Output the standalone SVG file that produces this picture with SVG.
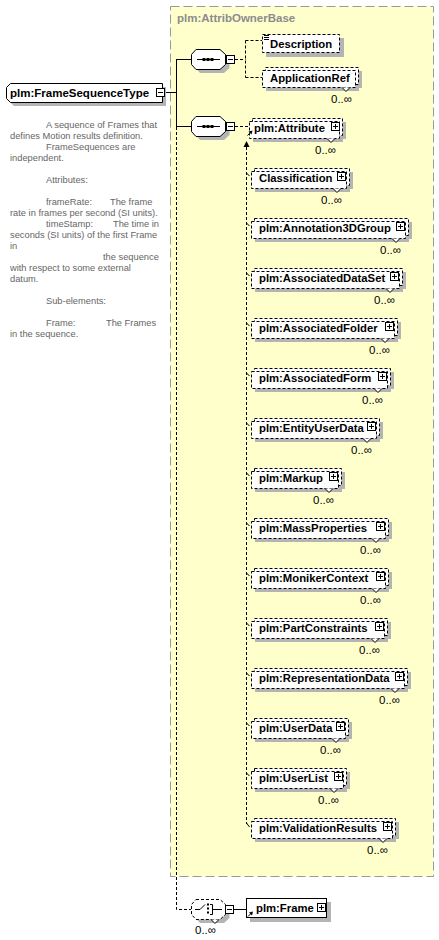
<svg xmlns="http://www.w3.org/2000/svg" width="439" height="940" viewBox="0 0 439 940">
<style>
.bg{fill:#fff}
.base{fill:#ffffcc;stroke:#999;stroke-width:1;stroke-dasharray:9 4}
.btitle{font-family:"Liberation Sans",Arial,sans-serif;font-weight:bold;font-size:11.5px;fill:#8c8c8c}
.sh{fill:#b4b4b4}
.eb{fill:#fff;stroke:#000;stroke-width:1;stroke-dasharray:3 2}
.sb{fill:#fff;stroke:#000;stroke-width:1}
.notch{fill:#fff;stroke:#000;stroke-width:1}
.pb{fill:#fff;stroke:#000;stroke-width:1}
.pl{fill:none;stroke:#000;stroke-width:1}
.t{font-family:"Liberation Sans",Arial,sans-serif;font-weight:bold;font-size:11.3px;fill:#000}
.occ{font-family:"Liberation Sans",Arial,sans-serif;font-size:11.5px;fill:#000;text-anchor:end}
.doc{font-family:"Liberation Sans",Arial,sans-serif;font-size:9.3px;fill:#666}
.ln{fill:none;stroke:#000;stroke-width:1}
.dl{fill:none;stroke:#000;stroke-width:1;stroke-dasharray:3 2}
.dot{fill:#000}
</style>
<rect class="bg" x="0" y="0" width="439" height="940"/>

<g id="base-AttribOwnerBase">
<rect class="base" x="170.5" y="6.5" width="263" height="870"/>
<text class="btitle" x="177" y="22">plm:AttribOwnerBase</text>
</g>

<g id="connectors">
<path class="ln" d="M162,92.5H176.5M176.5,59.5V126.5M176,59.5H191M176,126.5H191"/>
<path class="dl" d="M176.5,127V909.5H191"/>
<path class="dl" d="M235,59.5H245.5M245.5,40.5V77.5M245.5,40.5H262M245.5,77.5H262"/>
<path class="dl" d="M235,126.5H248"/>
<path class="ln" d="M234,909.5H246"/>
<path class="dl" d="M246.5,147V824"/>
<polygon class="dot" points="246.5,141 243.5,147 249.5,147"/>
<path class="ln" d="M246.5,173L249.5,176M246.5,223L249.5,226M246.5,273L249.5,276M246.5,323L249.5,326M246.5,373L249.5,376M246.5,423L249.5,426M246.5,473L249.5,476M246.5,523L249.5,526M246.5,573L249.5,576M246.5,623L249.5,626M246.5,673L249.5,676M246.5,723L249.5,726M246.5,773L249.5,776M246.5,823L249.5,827"/>
</g>

<g id="FrameSequenceType">
<polygon class="sh" points="14,87 166,87 166,106 14,106 10,102 10,91"/>
<polygon class="sb" points="10.5,83.5 162.5,83.5 162.5,102.5 10.5,102.5 6.5,98.5 6.5,87.5"/>
<text class="t" x="10" y="97" style="font-size:11.5px">plm:FrameSequenceType</text>
<rect class="pb" x="156.5" y="88.5" width="8" height="8"/>
<path class="pl" d="M158,92.5H163"/>
</g>

<g id="doc">
<text class="doc" x="46" y="128">A sequence of Frames that</text>
<text class="doc" x="10" y="139">defines Motion results definition.</text>
<text class="doc" x="46" y="150">FrameSequences are</text>
<text class="doc" x="10" y="161">independent.</text>
<text class="doc" x="46" y="183">Attributes:</text>
<text class="doc" x="46" y="205">frameRate:</text>
<text class="doc" x="110" y="205">The frame</text>
<text class="doc" x="10" y="216">rate in frames per second (SI units).</text>
<text class="doc" x="46" y="227">timeStamp:</text>
<text class="doc" x="113" y="227">The time in</text>
<text class="doc" x="10" y="238">seconds (SI units) of the first Frame</text>
<text class="doc" x="10" y="249">in</text>
<text class="doc" x="103" y="260">the sequence</text>
<text class="doc" x="10" y="271">with respect to some external</text>
<text class="doc" x="10" y="282">datum.</text>
<text class="doc" x="46" y="304">Sub-elements:</text>
<text class="doc" x="46" y="326">Frame:</text>
<text class="doc" x="106" y="326">The Frames</text>
<text class="doc" x="10" y="337">in the sequence.</text>
</g>

<g id="sequence1">
<polygon class="sh" points="200,53 224,53 229.5,58 229.5,68 224,73 200,73 195.5,68 195.5,58"/>
<polygon class="sb" points="196,49.5 220,49.5 225.5,54.5 225.5,64.5 220,69.5 196,69.5 191.5,64.5 191.5,54.5"/>
<path class="pl" d="M197,59.5H220"/>
<rect class="dot" x="202.5" y="58" width="3" height="3"/>
<rect class="dot" x="206.5" y="58" width="3" height="3"/>
<rect class="dot" x="210.5" y="58" width="3" height="3"/>
<rect class="pb" x="226.5" y="55.5" width="8" height="8"/>
<path class="pl" d="M228,59.5H233"/>
</g>

<g id="sequence2">
<polygon class="sh" points="200,120 224,120 229.5,125 229.5,135 224,140 200,140 195.5,135 195.5,125"/>
<polygon class="sb" points="196,116.5 220,116.5 225.5,121.5 225.5,131.5 220,136.5 196,136.5 191.5,131.5 191.5,121.5"/>
<path class="pl" d="M197,126.5H220"/>
<rect class="dot" x="202.5" y="125" width="3" height="3"/>
<rect class="dot" x="206.5" y="125" width="3" height="3"/>
<rect class="dot" x="210.5" y="125" width="3" height="3"/>
<rect class="pb" x="226.5" y="122.5" width="8" height="8"/>
<path class="pl" d="M228,126.5H233"/>
</g>

<g id="Description">
<rect class="sh" x="266" y="38" width="78" height="19"/>
<rect class="eb" x="262.5" y="34.5" width="77" height="18"/>
<path class="pl" d="M264,35.5H269M264,37.5H269M264,39.5H269"/>
<text class="t" x="270" y="48">Description</text>
</g>

<g id="ApplicationRef">
<rect class="sh" x="269" y="71" width="93" height="17"/>
<rect class="sh" x="266" y="74" width="93" height="17"/>
<rect class="eb" x="265.5" y="67.5" width="93" height="17"/>
<rect class="eb" x="262.5" y="70.5" width="93" height="17"/>
<path class="notch" d="M342,87.5L346,91.5L350,87.5"/>
<text class="t" x="270" y="82">ApplicationRef</text>
<text class="occ" x="352" y="103">0..∞</text>
</g>

<g id="Attribute" transform="translate(0,118)">
<rect class="sh" x="256" y="4" width="90" height="17"/>
<rect class="sh" x="253" y="7" width="90" height="17"/>
<rect class="eb" x="252.5" y="0.5" width="90" height="17"/>
<rect class="eb" x="249.5" y="3.5" width="90" height="17"/>
<path class="notch" d="M327,20.5L331,24.5L335,20.5"/>
<rect class="pb" x="331.5" y="4.5" width="8" height="8"/>
<path class="pl" d="M333,8.5H338M335.5,6V11"/>
<path class="ln" d="M247.5,17.5L251,14"/>
<polygon class="dot" points="252.5,12.5 248.5,13.5 251.5,16.5"/>
<text class="t" x="254" y="14">plm:Attribute</text>
<text class="occ" x="336" y="36">0..∞</text>
</g>

<g id="Classification" transform="translate(0,168)">
<rect class="sh" x="258" y="4" width="95" height="17"/>
<rect class="sh" x="255" y="7" width="95" height="17"/>
<rect class="eb" x="254.5" y="0.5" width="95" height="17"/>
<rect class="eb" x="251.5" y="3.5" width="95" height="17"/>
<path class="notch" d="M333,20.5L337,24.5L341,20.5"/>
<rect class="pb" x="337.5" y="4.5" width="8" height="8"/>
<path class="pl" d="M339,8.5H344M341.5,6V11"/>
<text class="t" x="259" y="14">Classification</text>
<text class="occ" x="342" y="36">0..∞</text>
</g>

<g id="Annotation3DGroup" transform="translate(0,218)">
<rect class="sh" x="258" y="4" width="154" height="17"/>
<rect class="sh" x="255" y="7" width="154" height="17"/>
<rect class="eb" x="254.5" y="0.5" width="154" height="17"/>
<rect class="eb" x="251.5" y="3.5" width="154" height="17"/>
<path class="notch" d="M392,20.5L396,24.5L400,20.5"/>
<rect class="pb" x="396.5" y="4.5" width="8" height="8"/>
<path class="pl" d="M398,8.5H403M400.5,6V11"/>
<text class="t" x="259" y="14">plm:Annotation3DGroup</text>
<text class="occ" x="401" y="36">0..∞</text>
</g>

<g id="AssociatedDataSet" transform="translate(0,268)">
<rect class="sh" x="258" y="4" width="148" height="17"/>
<rect class="sh" x="255" y="7" width="148" height="17"/>
<rect class="eb" x="254.5" y="0.5" width="148" height="17"/>
<rect class="eb" x="251.5" y="3.5" width="148" height="17"/>
<path class="notch" d="M386,20.5L390,24.5L394,20.5"/>
<rect class="pb" x="390.5" y="4.5" width="8" height="8"/>
<path class="pl" d="M392,8.5H397M394.5,6V11"/>
<text class="t" x="259" y="14">plm:AssociatedDataSet</text>
<text class="occ" x="395" y="36">0..∞</text>
</g>

<g id="AssociatedFolder" transform="translate(0,318)">
<rect class="sh" x="258" y="4" width="143" height="17"/>
<rect class="sh" x="255" y="7" width="143" height="17"/>
<rect class="eb" x="254.5" y="0.5" width="143" height="17"/>
<rect class="eb" x="251.5" y="3.5" width="143" height="17"/>
<path class="notch" d="M381,20.5L385,24.5L389,20.5"/>
<rect class="pb" x="385.5" y="4.5" width="8" height="8"/>
<path class="pl" d="M387,8.5H392M389.5,6V11"/>
<text class="t" x="259" y="14">plm:AssociatedFolder</text>
<text class="occ" x="390" y="36">0..∞</text>
</g>

<g id="AssociatedForm" transform="translate(0,368)">
<rect class="sh" x="258" y="4" width="136" height="17"/>
<rect class="sh" x="255" y="7" width="136" height="17"/>
<rect class="eb" x="254.5" y="0.5" width="136" height="17"/>
<rect class="eb" x="251.5" y="3.5" width="136" height="17"/>
<path class="notch" d="M374,20.5L378,24.5L382,20.5"/>
<rect class="pb" x="378.5" y="4.5" width="8" height="8"/>
<path class="pl" d="M380,8.5H385M382.5,6V11"/>
<text class="t" x="259" y="14">plm:AssociatedForm</text>
<text class="occ" x="383" y="36">0..∞</text>
</g>

<g id="EntityUserData" transform="translate(0,418)">
<rect class="sh" x="258" y="4" width="125" height="17"/>
<rect class="sh" x="255" y="7" width="125" height="17"/>
<rect class="eb" x="254.5" y="0.5" width="125" height="17"/>
<rect class="eb" x="251.5" y="3.5" width="125" height="17"/>
<path class="notch" d="M363,20.5L367,24.5L371,20.5"/>
<rect class="pb" x="367.5" y="4.5" width="8" height="8"/>
<path class="pl" d="M369,8.5H374M371.5,6V11"/>
<text class="t" x="259" y="14">plm:EntityUserData</text>
<text class="occ" x="372" y="36">0..∞</text>
</g>

<g id="Markup" transform="translate(0,468)">
<rect class="sh" x="258" y="4" width="87" height="17"/>
<rect class="sh" x="255" y="7" width="87" height="17"/>
<rect class="eb" x="254.5" y="0.5" width="87" height="17"/>
<rect class="eb" x="251.5" y="3.5" width="87" height="17"/>
<path class="notch" d="M325,20.5L329,24.5L333,20.5"/>
<rect class="pb" x="329.5" y="4.5" width="8" height="8"/>
<path class="pl" d="M331,8.5H336M333.5,6V11"/>
<text class="t" x="259" y="14">plm:Markup</text>
<text class="occ" x="334" y="36">0..∞</text>
</g>

<g id="MassProperties" transform="translate(0,518)">
<rect class="sh" x="258" y="4" width="134" height="17"/>
<rect class="sh" x="255" y="7" width="134" height="17"/>
<rect class="eb" x="254.5" y="0.5" width="134" height="17"/>
<rect class="eb" x="251.5" y="3.5" width="134" height="17"/>
<path class="notch" d="M372,20.5L376,24.5L380,20.5"/>
<rect class="pb" x="376.5" y="4.5" width="8" height="8"/>
<path class="pl" d="M378,8.5H383M380.5,6V11"/>
<text class="t" x="259" y="14">plm:MassProperties</text>
<text class="occ" x="381" y="36">0..∞</text>
</g>

<g id="MonikerContext" transform="translate(0,568)">
<rect class="sh" x="258" y="4" width="134" height="17"/>
<rect class="sh" x="255" y="7" width="134" height="17"/>
<rect class="eb" x="254.5" y="0.5" width="134" height="17"/>
<rect class="eb" x="251.5" y="3.5" width="134" height="17"/>
<path class="notch" d="M372,20.5L376,24.5L380,20.5"/>
<rect class="pb" x="376.5" y="4.5" width="8" height="8"/>
<path class="pl" d="M378,8.5H383M380.5,6V11"/>
<text class="t" x="259" y="14">plm:MonikerContext</text>
<text class="occ" x="381" y="36">0..∞</text>
</g>

<g id="PartConstraints" transform="translate(0,618)">
<rect class="sh" x="258" y="4" width="133" height="17"/>
<rect class="sh" x="255" y="7" width="133" height="17"/>
<rect class="eb" x="254.5" y="0.5" width="133" height="17"/>
<rect class="eb" x="251.5" y="3.5" width="133" height="17"/>
<path class="notch" d="M371,20.5L375,24.5L379,20.5"/>
<rect class="pb" x="375.5" y="4.5" width="8" height="8"/>
<path class="pl" d="M377,8.5H382M379.5,6V11"/>
<text class="t" x="259" y="14">plm:PartConstraints</text>
<text class="occ" x="380" y="36">0..∞</text>
</g>

<g id="RepresentationData" transform="translate(0,668)">
<rect class="sh" x="258" y="4" width="153" height="17"/>
<rect class="sh" x="255" y="7" width="153" height="17"/>
<rect class="eb" x="254.5" y="0.5" width="153" height="17"/>
<rect class="eb" x="251.5" y="3.5" width="153" height="17"/>
<path class="notch" d="M391,20.5L395,24.5L399,20.5"/>
<rect class="pb" x="395.5" y="4.5" width="8" height="8"/>
<path class="pl" d="M397,8.5H402M399.5,6V11"/>
<text class="t" x="259" y="14">plm:RepresentationData</text>
<text class="occ" x="400" y="36">0..∞</text>
</g>

<g id="UserData" transform="translate(0,718)">
<rect class="sh" x="258" y="4" width="94" height="17"/>
<rect class="sh" x="255" y="7" width="94" height="17"/>
<rect class="eb" x="254.5" y="0.5" width="94" height="17"/>
<rect class="eb" x="251.5" y="3.5" width="94" height="17"/>
<path class="notch" d="M332,20.5L336,24.5L340,20.5"/>
<rect class="pb" x="336.5" y="4.5" width="8" height="8"/>
<path class="pl" d="M338,8.5H343M340.5,6V11"/>
<text class="t" x="259" y="14">plm:UserData</text>
<text class="occ" x="341" y="36">0..∞</text>
</g>

<g id="UserList" transform="translate(0,768)">
<rect class="sh" x="258" y="4" width="92" height="17"/>
<rect class="sh" x="255" y="7" width="92" height="17"/>
<rect class="eb" x="254.5" y="0.5" width="92" height="17"/>
<rect class="eb" x="251.5" y="3.5" width="92" height="17"/>
<path class="notch" d="M330,20.5L334,24.5L338,20.5"/>
<rect class="pb" x="334.5" y="4.5" width="8" height="8"/>
<path class="pl" d="M336,8.5H341M338.5,6V11"/>
<text class="t" x="259" y="14">plm:UserList</text>
<text class="occ" x="339" y="36">0..∞</text>
</g>

<g id="ValidationResults" transform="translate(0,818)">
<rect class="sh" x="258" y="4" width="141" height="17"/>
<rect class="sh" x="255" y="7" width="141" height="17"/>
<rect class="eb" x="254.5" y="0.5" width="141" height="17"/>
<rect class="eb" x="251.5" y="3.5" width="141" height="17"/>
<path class="notch" d="M379,20.5L383,24.5L387,20.5"/>
<rect class="pb" x="383.5" y="4.5" width="8" height="8"/>
<path class="pl" d="M385,8.5H390M387.5,6V11"/>
<text class="t" x="259" y="14">plm:ValidationResults</text>
<text class="occ" x="388" y="36">0..∞</text>
</g>

<g id="choice">
<polygon class="sh" points="200,903 224,903 229.5,908 229.5,918 224,923 200,923 195.5,918 195.5,908"/>
<polygon class="eb" points="196,899.5 220,899.5 225.5,904.5 225.5,914.5 220,919.5 196,919.5 191.5,914.5 191.5,904.5"/>
<path class="notch" d="M211,919.5L215,923.5L219,919.5"/>
<path class="pl" d="M195,909.5H200L205,904.5"/>
<rect class="dot" x="207" y="903.5" width="2" height="2"/>
<rect class="dot" x="207" y="907.5" width="2" height="2"/>
<rect class="dot" x="207" y="911.5" width="2" height="2"/>
<path class="pl" d="M210,904.5H212.5V914.5H210M212.5,909.5H222"/>
<rect class="pb" x="225.5" y="905.5" width="8" height="8"/>
<path class="pl" d="M227,909.5H232"/>
<text class="occ" x="216" y="934">0..∞</text>
</g>

<g id="Frame">
<rect class="sh" x="250" y="902" width="81" height="20"/>
<rect class="sb" x="246.5" y="898.5" width="80" height="19"/>
<rect class="pb" x="317.5" y="903.5" width="8" height="8"/>
<path class="pl" d="M319,907.5H324M321.5,905V910"/>
<path class="ln" d="M248,916.5L251.5,913"/>
<polygon class="dot" points="253,911.5 249,912.5 252,915.5"/>
<text class="t" x="256" y="912">plm:Frame</text>
</g>
</svg>
